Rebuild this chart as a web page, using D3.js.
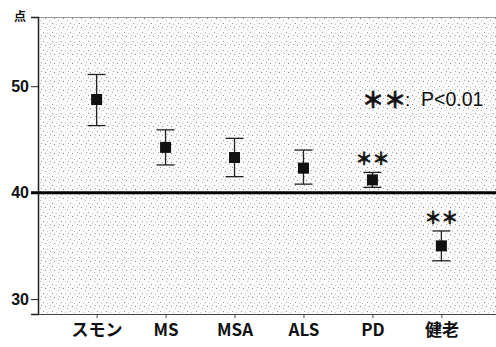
<!DOCTYPE html>
<html>
<head>
<meta charset="utf-8">
<script src="https://cdn.jsdelivr.net/npm/d3@7"></script>
<style>
  body { margin: 0; background: #fff; }
  svg { display: block; }
</style>
</head>
<body>
<div id="chart"></div>
<script>
// groups and their mean +- error values
const groups = ['スモン', 'MS', 'MSA', 'ALS', 'PD', '健老'];
const means = [48.75, 44.25, 43.3, 42.3, 41.2, 35.0];
const upper = [51.1, 45.9, 45.1, 44.0, 41.9, 36.4];
const lower = [46.3, 42.6, 41.5, 40.8, 40.5, 33.6];
const significant = ['PD', '健老'];
const yTicks = [30, 40, 50];
const refLine = 40;

const width = 496, height = 347;
const margin = {top: 17, right: 0, bottom: 33, left: 38};

const svg = d3.select('#chart').append('svg')
    .attr('width', width)
    .attr('height', height);

// stippled background texture
const defs = svg.append('defs');
const pat = defs.append('pattern')
    .attr('id', 'dots')
    .attr('width', 9).attr('height', 9)
    .attr('patternUnits', 'userSpaceOnUse');
pat.append('rect').attr('width', 9).attr('height', 9).attr('fill', '#fbfbfb');
[[0, 0, '#888'], [4, 2, '#bbb'], [7, 5, '#999'], [2, 6, '#c4c4c4'], [5, 8, '#aaa']]
    .forEach(([x, y, c]) => pat.append('rect').attr('x', x).attr('y', y)
        .attr('width', 1).attr('height', 1).attr('fill', c));

const x = d3.scalePoint()
    .domain(groups)
    .range([margin.left, 500])
    .padding(0.85);

const y = d3.scaleLinear()
    .domain([28.6, 56.5])
    .range([height - margin.bottom, margin.top]);

// plot background
svg.append('rect')
    .attr('x', margin.left)
    .attr('y', margin.top)
    .attr('width', width - margin.left)
    .attr('height', height - margin.bottom - margin.top)
    .attr('fill', 'url(#dots)');

// top border
svg.append('line')
    .attr('x1', margin.left).attr('x2', width)
    .attr('y1', margin.top + 0.5).attr('y2', margin.top + 0.5)
    .attr('stroke', '#999');

// y axis
const yAxis = svg.append('g')
    .attr('transform', `translate(${margin.left},0)`)
    .call(d3.axisLeft(y).tickValues(yTicks).tickSize(7).tickPadding(2));
yAxis.select('.domain').attr('stroke', '#222').attr('stroke-width', 1.5);
yAxis.selectAll('.tick line').attr('stroke', '#222');
yAxis.selectAll('.tick text')
    .attr('font-family', 'Liberation Sans, Arial, sans-serif')
    .attr('font-weight', 'bold')
    .attr('font-size', 16)
    .attr('fill', '#111');

// x axis
const xAxis = svg.append('g')
    .attr('transform', `translate(0,${height - margin.bottom})`)
    .call(d3.axisBottom(x).tickSize(4).tickPadding(6).tickSizeOuter(0));
xAxis.select('.domain').attr('stroke', '#444').attr('d', `M${margin.left},0.5H${width}`);
xAxis.selectAll('.tick line').attr('stroke', '#444');
xAxis.selectAll('.tick text')
    .attr('font-family', '"Noto Sans CJK JP", sans-serif')
    .attr('font-weight', 'bold')
    .attr('font-size', 17)
    .attr('fill', '#111');

// y unit label
svg.append('text')
    .attr('x', 20).attr('y', 21)
    .attr('text-anchor', 'middle')
    .attr('font-family', '"Noto Sans CJK JP", sans-serif')
    .attr('font-weight', 'bold')
    .attr('font-size', 12)
    .attr('fill', '#111')
    .text('点');

// reference line at 40
svg.append('line')
    .attr('x1', margin.left - 7).attr('x2', width)
    .attr('y1', y(refLine)).attr('y2', y(refLine))
    .attr('stroke', '#000')
    .attr('stroke-width', 3);

// error bars
const data = groups.map((g, i) => ({g, m: means[i], hi: upper[i], lo: lower[i]}));
const bars = svg.append('g').selectAll('g')
    .data(data)
    .join('g');

bars.append('line')
    .attr('x1', d => x(d.g)).attr('x2', d => x(d.g))
    .attr('y1', d => y(d.hi)).attr('y2', d => y(d.lo))
    .attr('stroke', '#222').attr('stroke-width', 1.3);
bars.selectAll('.cap')
    .data(d => [d, d].map((v, k) => ({x: x(v.g), v: k ? v.lo : v.hi})))
    .join('line')
    .attr('class', 'cap')
    .attr('x1', d => d.x - 9).attr('x2', d => d.x + 9)
    .attr('y1', d => y(d.v)).attr('y2', d => y(d.v))
    .attr('stroke', '#222').attr('stroke-width', 1.3);
bars.append('rect')
    .attr('x', d => x(d.g) - 5.5)
    .attr('y', d => y(d.m) - 5.5)
    .attr('width', 11).attr('height', 11)
    .attr('fill', '#111');

// significance marks (stroked a little to look heavier)
svg.append('g').selectAll('text')
    .data(data.filter(d => significant.includes(d.g)))
    .join('text')
    .attr('x', d => x(d.g))
    .attr('y', d => y(d.hi) - 7)
    .attr('text-anchor', 'middle')
    .attr('font-family', '"Noto Sans CJK JP", sans-serif')
    .attr('font-weight', 'bold')
    .attr('font-size', 17)
    .attr('fill', '#111')
    .attr('stroke', '#111')
    .attr('stroke-width', 0.6)
    .text('＊＊');

// legend note
const note = svg.append('g').attr('fill', '#111');
note.append('text')
    .attr('x', 362).attr('y', 108)
    .attr('font-family', '"Noto Sans CJK JP", sans-serif')
    .attr('font-weight', 'bold')
    .attr('font-size', 22)
    .attr('stroke', '#111')
    .attr('stroke-width', 0.7)
    .text('＊＊');
note.append('text')
    .attr('x', 405).attr('y', 106)
    .attr('font-family', 'Liberation Sans, Arial, sans-serif')
    .attr('font-size', 19)
    .text(':');
note.append('text')
    .attr('x', 421).attr('y', 106)
    .attr('font-family', 'Liberation Sans, Arial, sans-serif')
    .attr('font-size', 19.5)
    .text('P<0.01');
</script>
</body>
</html>
